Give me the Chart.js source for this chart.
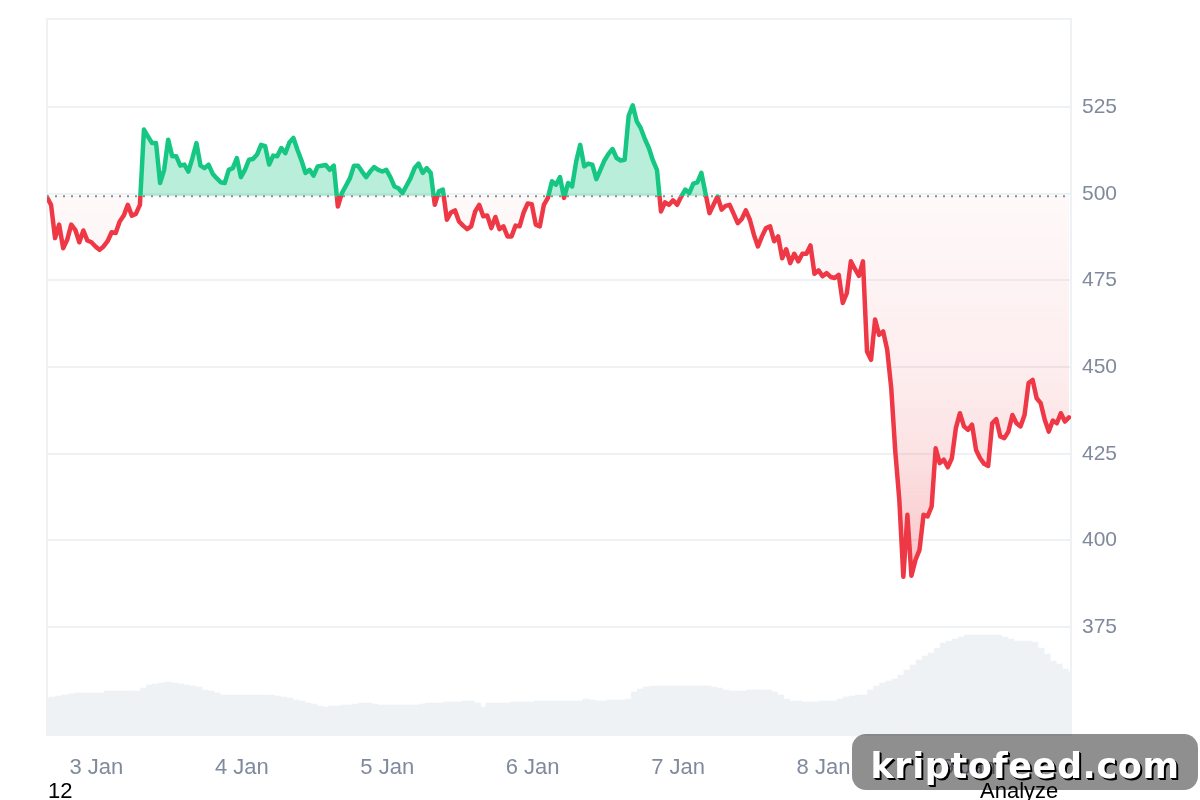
<!DOCTYPE html>
<html>
<head>
<meta charset="utf-8">
<title>Price chart</title>
<script src="https://cdn.jsdelivr.net/npm/chart.js@4/dist/chart.umd.min.js"></script>
<style>
    html, body { margin: 0; padding: 0; background: #fff; width: 1200px; height: 800px; overflow: hidden; }
    #wrap { position: relative; width: 1200px; height: 800px; overflow: hidden; font-family: "Liberation Sans", Arial, sans-serif; }
    canvas { position: absolute; left: 0; top: 0; }
    .foot { position: absolute; top: 778px; font-size: 22px; line-height: 26px; color: #000; }
    #watermark {
        position: absolute; left: 852px; top: 734px; width: 346px; height: 56px;
        background: rgba(0, 0, 0, 0.44); border-radius: 14px; color: #fff; text-align: center;
        font: bold 35px/64px "DejaVu Sans", sans-serif; letter-spacing: 0.6px;
        text-shadow: 2px 2px 0 #000, 1px 1px 0 #000;
    }
</style>
</head>
<body>
<div id="wrap">
    <canvas id="chart" width="1200" height="800"></canvas>
    <div class="foot" style="left:48px">12</div>
    <div class="foot" style="left:980px">Analyze</div>
    <div id="watermark">kriptofeed.com</div>
</div>
<script>
const dayTicks = [8.15, 32.15, 56.15, 80.15, 104.15, 128.15, 152.15];
const dayLabels = ['3 Jan', '4 Jan', '5 Jan', '6 Jan', '7 Jan', '8 Jan', '9 Jan'];
const priceTicks = [375, 400, 425, 450, 475, 500, 525];
const baseline = 499.3;

// one reading every 40 minutes
const prices = [
    499, 496.8, 487.2, 491.1, 484.3, 486.7, 491.1, 489.6, 486, 489.4,
    486.5, 486, 484.8, 483.8, 484.8, 486.3, 488.9, 488.7, 492, 493.7,
    496.8, 493.7, 494.2, 496.8, 518.5, 516.5, 514.6, 514.6, 503.1, 506.9,
    515.6, 510.8, 510.8, 508.1, 508.4, 506.4, 510.3, 514.6, 508.1, 507.4,
    508.4, 505.8, 504.5, 503.3, 503.1, 506.9, 507.4, 510.3, 504.8, 506.9,
    509.8, 510, 511.3, 514.1, 513.7, 508.4, 511, 510.8, 513.2, 511.7,
    514.8, 516.1, 512.7, 509.6, 506, 506.9, 505.2, 507.9, 508.1, 508.3,
    506.9, 508.1, 496.3, 500.2, 502.3, 504.5, 508.1, 508.1, 506.4, 504.8,
    506.4, 507.7, 506.9, 506.4, 506.9, 504.8, 502.1, 501.6, 500.2, 502.3,
    504.5, 507.4, 508.7, 506, 507.4, 506, 496.8, 500.7, 501.2, 492.5,
    494.6, 495.2, 492, 490.8, 489.8, 490.6, 494.9, 496.8, 493.5, 493.7,
    490.1, 493.3, 489.8, 490.6, 487.7, 487.7, 490.8, 490.6, 494.6, 497.2,
    497, 491.1, 490.6, 496.8, 498.8, 503.6, 502.6, 504.8, 498.8, 503.1,
    502.1, 509.3, 514.1, 507.9, 508.7, 508.4, 504.2, 506.9, 509.6, 511.5,
    512.9, 510.3, 509.6, 509.8, 522.5, 525.5, 520.9, 518.9, 515.8, 513.2,
    509.6, 506.9, 494.9, 497.5, 496.8, 498.1, 496.8, 499.2, 501.2, 500.2,
    502.9, 503.3, 506, 500.2, 494.4, 496.8, 499.2, 495.4, 496.5, 496.8,
    494.2, 491.5, 492.7, 495.2, 492.5, 488.2, 484.8, 487.7, 490.1, 490.6,
    486.3, 487.7, 481.4, 484, 480, 482.7, 480.5, 482.7, 482.7, 485.1,
    476.9, 477.9, 476.2, 477.1, 476, 475.7, 476.6, 468.5, 471.3, 480.5,
    478.3, 476.3, 480.5, 454.5, 452.1, 463.7, 459.3, 460.3, 455, 443.9,
    425.7, 411.7, 389.5, 407.4, 389.8, 394.4, 397.3, 407.4, 406.9, 409.8,
    426.6, 422.3, 423.3, 421.1, 423.7, 432.4, 436.7, 432.9, 431.9, 433.4,
    426.1, 423.7, 422.1, 421.5, 433.8, 435, 430, 429.5, 431.4, 436.2,
    433.8, 432.9, 436.2, 445.4, 446.3, 441, 439.6, 434.8, 431.4, 434.6,
    433.8, 436.7, 434.3, 435.5
];

// one reading every hour, relative units
const volumes = [
    38, 39, 40, 41, 42, 43, 43, 43, 43, 43,
    45, 45, 45, 45, 45, 45, 48, 51, 52, 53,
    54, 53, 52, 51, 50, 49, 46, 45, 43, 41,
    41, 41, 41, 41, 41, 41, 41, 41, 40, 39,
    38, 36, 35, 33, 32, 30, 29, 30, 30, 31,
    31, 32, 33, 33, 32, 31, 31, 31, 31, 31,
    31, 31, 32, 33, 33, 33, 34, 34, 34, 35,
    35, 33, 29, 33, 33, 33, 33, 34, 34, 34,
    34, 35, 35, 35, 35, 35, 35, 35, 35, 37,
    36, 35, 35, 36, 36, 36, 37, 44, 47, 49,
    50, 50, 50, 50, 50, 50, 50, 50, 50, 50,
    49, 48, 46, 45, 45, 45, 46, 46, 46, 46,
    44, 41, 37, 35, 35, 34, 34, 34, 35, 35,
    35, 37, 39, 40, 41, 41, 46, 50, 53, 55,
    57, 61, 66, 71, 76, 80, 83, 88, 93, 95,
    97, 99, 101, 101, 101, 101, 101, 101, 99, 97,
    95, 95, 95, 94, 88, 82, 75, 72, 67, 64
];

const green = '#16c784';
const red = '#ee3846';
const gridColor = '#eff2f5';
const labelColor = '#808a9d';

const plotFrame = {
    id: 'plotFrame',
    beforeDatasetsDraw(chart) {
        const { ctx, chartArea: a } = chart;
        ctx.save();
        ctx.strokeStyle = gridColor;
        ctx.lineWidth = 2;
        ctx.beginPath();
        ctx.moveTo(a.left, a.bottom);
        ctx.lineTo(a.left, a.top);
        ctx.lineTo(a.right, a.top);
        ctx.lineTo(a.right, a.bottom);
        ctx.stroke();
        ctx.restore();
    }
};

const priceData = prices.map((p, i) => ({ x: i * 2 / 3, y: p }));
const volumeData = volumes.map((v, i) => ({ x: i, y: v }));

const chart = new Chart(document.getElementById('chart'), {
    data: {
        datasets: [
            {
                type: 'line',
                order: 1,
                data: [{ x: 0, y: baseline }, { x: 169, y: baseline }],
                borderColor: '#8f8f8f',
                borderWidth: 2,
                borderDash: [2, 6],
                pointRadius: 0,
                fill: false
            },
            {
                type: 'line',
                order: 2,
                data: priceData,
                borderColor: red,
                borderWidth: 4.5,
                borderJoinStyle: 'round',
                borderCapStyle: 'round',
                tension: 0,
                pointRadius: 0,
                fill: { target: { value: baseline }, above: 'rgba(22,199,132,0.3)', below: 'rgba(234,57,67,0.1)' }
            },
            {
                type: 'bar',
                order: 3,
                yAxisID: 'y2',
                data: volumeData,
                backgroundColor: gridColor,
                borderWidth: 0,
                barThickness: 7
            }
        ]
    },
    options: {
        responsive: false,
        animation: false,
        layout: { padding: { left: 47, top: 19, right: 0, bottom: 0 } },
        plugins: { legend: { display: false }, tooltip: { enabled: false } },
        scales: {
            x: {
                type: 'linear',
                offset: false,
                min: 0,
                max: 169,
                grid: { display: false },
                border: { display: false },
                afterBuildTicks: axis => { axis.ticks = dayTicks.map(v => ({ value: v })); },
                afterFit: axis => { axis.height = 64; axis.paddingLeft = 0; axis.paddingRight = 0; },
                ticks: {
                    color: labelColor,
                    font: { family: '"Liberation Sans"', size: 22 },
                    padding: 11,
                    maxRotation: 0,
                    autoSkip: false,
                    callback: v => dayLabels[dayTicks.indexOf(v)]
                }
            },
            y: {
                position: 'right',
                min: 343.6,
                max: 550.4,
                grid: { color: gridColor, lineWidth: 2, drawTicks: false },
                border: { display: false },
                afterBuildTicks: axis => { axis.ticks = priceTicks.map(v => ({ value: v })); },
                afterFit: axis => { axis.width = 129; axis.paddingTop = 0; axis.paddingBottom = 0; },
                ticks: {
                    color: labelColor,
                    font: { family: '"Liberation Sans"', size: 21 },
                    padding: 11,
                    autoSkip: false
                }
            },
            y2: { display: false, min: 0, max: 717 }
        }
    },
    plugins: [plotFrame]
});

// gradients need the finished scale positions
const yScale = chart.scales.y;
const yBase = yScale.getPixelForValue(baseline);
const ctx = chart.ctx;

const stroke = ctx.createLinearGradient(0, chart.chartArea.top, 0, chart.chartArea.bottom);
const baseStop = (yBase - chart.chartArea.top) / chart.chartArea.height;
stroke.addColorStop(0, green);
stroke.addColorStop(baseStop, green);
stroke.addColorStop(baseStop, red);
stroke.addColorStop(1, red);

const below = ctx.createLinearGradient(0, yBase, 0, yScale.getPixelForValue(388));
below.addColorStop(0, 'rgba(234,57,67,0.03)');
below.addColorStop(0.45, 'rgba(234,57,67,0.09)');
below.addColorStop(0.65, 'rgba(234,57,67,0.14)');
below.addColorStop(1, 'rgba(234,57,67,0.3)');

chart.data.datasets[1].borderColor = stroke;
chart.data.datasets[1].fill.below = below;
chart.update('none');
</script>
</body>
</html>
